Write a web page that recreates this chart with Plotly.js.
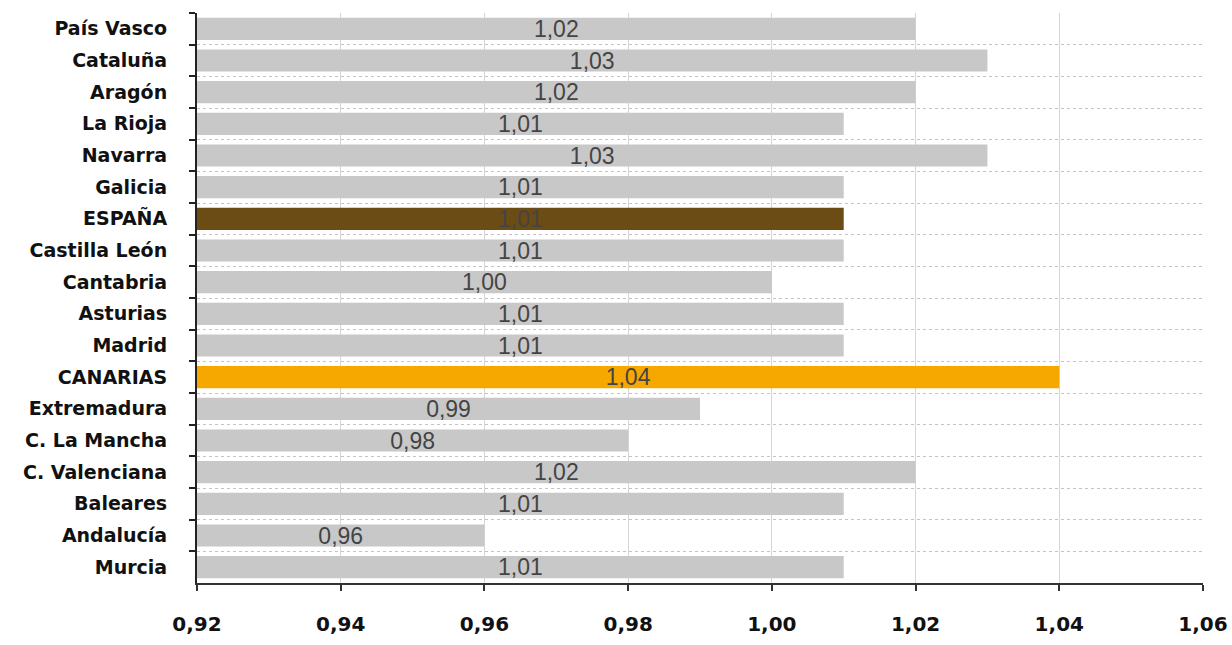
<!DOCTYPE html>
<html>
<head>
<meta charset="utf-8">
<script src="https://cdn.plot.ly/plotly-3.0.1.min.js"></script>
<style>html,body{margin:0;padding:0;background:#fff;}#chart{width:1232px;height:645px;}</style>
</head>
<body>
<div id="chart"></div>
<script>
const regions = ["País Vasco","Cataluña","Aragón","La Rioja","Navarra","Galicia","ESPAÑA","Castilla León","Cantabria","Asturias","Madrid","CANARIAS","Extremadura","C. La Mancha","C. Valenciana","Baleares","Andalucía","Murcia"];
const values = [1.02,1.03,1.02,1.01,1.03,1.01,1.01,1.01,1.00,1.01,1.01,1.04,0.99,0.98,1.02,1.01,0.96,1.01];
const axisMin = 0.92, axisMax = 1.06, axisStep = 0.02;
const grey = "#c8c8c8", spainColor = "#6b4c14", canaryColor = "#f7a800";
const colors = regions.map(r => r === "ESPAÑA" ? spainColor : (r === "CANARIAS" ? canaryColor : grey));
const labels = values.map(v => v.toFixed(2).replace(".", ","));

const trace = {
  type: "bar",
  orientation: "h",
  y: regions,
  x: values.map(v => v - axisMin),
  base: axisMin,
  text: labels,
  textposition: "inside",
  insidetextanchor: "middle",
  textangle: 0,
  constraintext: "none",
  textfont: {family: "Liberation Sans, Arial, sans-serif", size: 23, color: "#444"},
  marker: {color: colors, line: {width: 0}},
  hoverinfo: "none"
};

const layout = {
  width: 1232, height: 645,
  margin: {l: 197, r: 29, t: 13, b: 62},
  paper_bgcolor: "#fff", plot_bgcolor: "#fff",
  bargap: 0.3,
  showlegend: false,
  separators: ",.",
  xaxis: {
    range: [axisMin, axisMax],
    dtick: axisStep, tick0: axisMin,
    tickformat: ".2f",
    showgrid: true, gridcolor: "#d6d6d6", gridwidth: 1,
    zeroline: false,
    showline: true, linecolor: "#333", linewidth: 2,
    ticks: "outside", ticklen: 6, tickcolor: "#333", tickwidth: 2,
    ticklabelstandoff: 16,
    tickfont: {family: "DejaVu Sans, sans-serif", size: 20, color: "#111", weight: "bold"}
  },
  yaxis: {
    type: "category",
    categoryorder: "array", categoryarray: regions,
    autorange: "reversed",
    tickson: "boundaries",
    showgrid: true, gridcolor: "#c4c4c4", griddash: "dot", gridwidth: 1,
    showline: true, linecolor: "#222", linewidth: 2,
    ticks: "outside", ticklen: 6, tickcolor: "#222", tickwidth: 2,
    ticklabelstandoff: 24,
    tickfont: {family: "DejaVu Sans, sans-serif", size: 19, color: "#111", weight: "bold"}
  }
};

Plotly.newPlot("chart", [trace], layout, {displayModeBar: false, staticPlot: true});
</script>
</body>
</html>
